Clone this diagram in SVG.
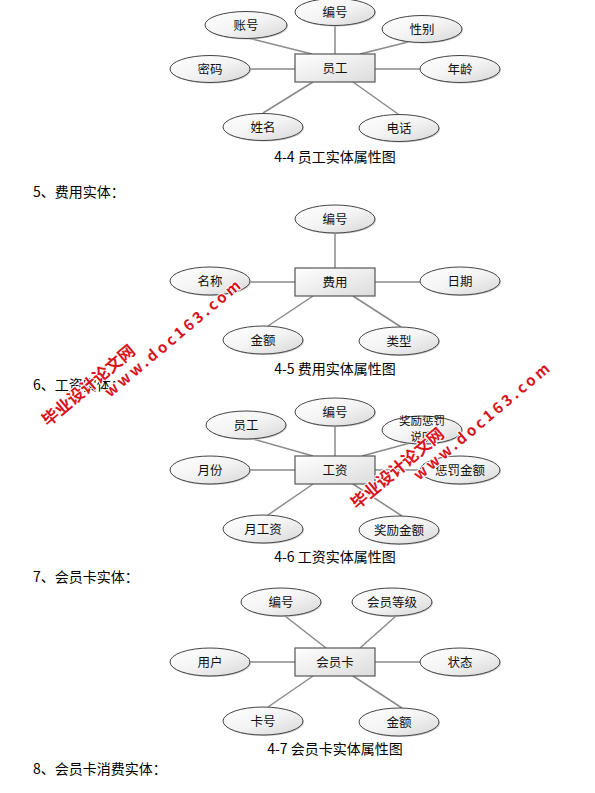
<svg xmlns="http://www.w3.org/2000/svg" width="595" height="793" viewBox="0 0 595 793">
<defs>
<linearGradient id="eg" x1="0" y1="0" x2="1" y2="1">
<stop offset="0" stop-color="#ffffff"/>
<stop offset="0.5" stop-color="#f4f4f4"/>
<stop offset="1" stop-color="#d6d6d6"/>
</linearGradient>
<linearGradient id="bg" x1="0" y1="0" x2="1" y2="1">
<stop offset="0" stop-color="#ffffff"/>
<stop offset="1" stop-color="#dcdcdc"/>
</linearGradient>
</defs>
<style>
.e{fill:url(#eg);stroke:#444;stroke-width:1}
.sh{fill:#c8c8c8;stroke:none}
.b{fill:url(#bg);stroke:#555;stroke-width:1.2}
.t{font-family:"Noto Sans CJK SC","Liberation Sans",sans-serif;font-size:12.5px;fill:#111;text-anchor:middle}
.t2{font-family:"Noto Sans CJK SC","Liberation Sans",sans-serif;font-size:11.5px;fill:#111;text-anchor:middle}
.h{font-family:"Noto Sans CJK SC","Liberation Sans",sans-serif;font-size:14px;fill:#000}
.c{font-family:"Noto Sans CJK SC","Liberation Sans",sans-serif;font-size:14px;fill:#000;text-anchor:middle}
.cn line{stroke:#8a8a8a;stroke-width:1.5}
.wm{font-family:"Noto Sans CJK SC","Liberation Sans",sans-serif;font-weight:bold;fill:#d8141c;stroke:#fff;stroke-width:2;paint-order:stroke}
</style>
<rect width="595" height="793" fill="#fff"/>

<!-- headings & captions -->
<text class="c" x="335" y="162">4-4 员工实体属性图</text>
<text class="h" x="33" y="197">5、费用实体：</text>
<text class="c" x="335" y="374">4-5 费用实体属性图</text>
<text class="h" x="33" y="390">6、工资实体：</text>
<text class="c" x="335" y="562">4-6 工资实体属性图</text>
<text class="h" x="33" y="582">7、会员卡实体：</text>
<text class="c" x="335" y="754">4-7 会员卡实体属性图</text>
<text class="h" x="33" y="774">8、会员卡消费实体：</text>

<!-- connectors -->
<g id="connectors" class="cn">
<line x1="248" y1="38" x2="312" y2="54"/>
<line x1="335" y1="25" x2="335" y2="54"/>
<line x1="408" y1="42" x2="360" y2="54"/>
<line x1="250" y1="69" x2="295" y2="69"/>
<line x1="375" y1="69" x2="420" y2="69"/>
<line x1="263" y1="113" x2="313" y2="82"/>
<line x1="353" y1="82" x2="398" y2="114"/>

<line x1="335" y1="233" x2="335" y2="268"/>
<line x1="250" y1="282" x2="295" y2="282"/>
<line x1="375" y1="282" x2="420" y2="282"/>
<line x1="268" y1="326" x2="313" y2="296"/>
<line x1="353" y1="296" x2="401" y2="327"/>

<line x1="253" y1="439" x2="313" y2="456"/>
<line x1="335" y1="426" x2="335" y2="456"/>
<line x1="410" y1="443" x2="362" y2="456"/>
<line x1="250" y1="470" x2="295" y2="470"/>
<line x1="375" y1="470" x2="420" y2="470"/>
<line x1="268" y1="515" x2="313" y2="484"/>
<line x1="353" y1="484" x2="402" y2="516"/>

<line x1="285" y1="616" x2="326" y2="648"/>
<line x1="396" y1="616" x2="360" y2="648"/>
<line x1="250" y1="662" x2="295" y2="662"/>
<line x1="375" y1="662" x2="420" y2="662"/>
<line x1="268" y1="707" x2="313" y2="676"/>
<line x1="353" y1="676" x2="402" y2="708"/>
</g>

<!-- Diagram 4-4 -->
<g id="yuangong"><rect class="b" x="295" y="54" width="80" height="28"/><text class="t" x="335" y="73">员工</text></g>
<g id="yg-bianhao"><ellipse class="sh" cx="336" cy="13" rx="40" ry="13.5"/><ellipse class="e" cx="335" cy="12" rx="40" ry="13.5"/><text class="t" x="335" y="16.5">编号</text></g>
<g id="yg-zhanghao"><ellipse class="sh" cx="247" cy="26" rx="41" ry="13.5"/><ellipse class="e" cx="246" cy="25" rx="41" ry="13.5"/><text class="t" x="246" y="29.5">账号</text></g>
<g id="yg-xingbie"><ellipse class="sh" cx="423" cy="30" rx="40" ry="13.5"/><ellipse class="e" cx="422" cy="29" rx="40" ry="13.5"/><text class="t" x="422" y="33.5">性别</text></g>
<g id="yg-mima"><ellipse class="sh" cx="211" cy="70" rx="40" ry="13.5"/><ellipse class="e" cx="210" cy="69" rx="40" ry="13.5"/><text class="t" x="210" y="73.5">密码</text></g>
<g id="yg-nianling"><ellipse class="sh" cx="461" cy="70" rx="40" ry="13.5"/><ellipse class="e" cx="460" cy="69" rx="40" ry="13.5"/><text class="t" x="460" y="73.5">年龄</text></g>
<g id="yg-xingming"><ellipse class="sh" cx="264" cy="128" rx="40" ry="13.5"/><ellipse class="e" cx="263" cy="127" rx="40" ry="13.5"/><text class="t" x="263" y="131.5">姓名</text></g>
<g id="yg-dianhua"><ellipse class="sh" cx="400" cy="129" rx="40" ry="13.5"/><ellipse class="e" cx="399" cy="128" rx="40" ry="13.5"/><text class="t" x="399" y="132.5">电话</text></g>

<!-- Diagram 4-5 -->
<g id="feiyong"><rect class="b" x="295" y="268" width="80" height="28"/><text class="t" x="335" y="287">费用</text></g>
<g id="fy-bianhao"><ellipse class="sh" cx="336" cy="220" rx="40" ry="14"/><ellipse class="e" cx="335" cy="219" rx="40" ry="14"/><text class="t" x="335" y="223.5">编号</text></g>
<g id="fy-mingcheng"><ellipse class="sh" cx="211" cy="282" rx="40" ry="14"/><ellipse class="e" cx="210" cy="281" rx="40" ry="14"/><text class="t" x="210" y="285.5">名称</text></g>
<g id="fy-riqi"><ellipse class="sh" cx="461" cy="282" rx="40" ry="14"/><ellipse class="e" cx="460" cy="281" rx="40" ry="14"/><text class="t" x="460" y="285.5">日期</text></g>
<g id="fy-jine"><ellipse class="sh" cx="264" cy="341" rx="40" ry="14"/><ellipse class="e" cx="263" cy="340" rx="40" ry="14"/><text class="t" x="263" y="344.5">金额</text></g>
<g id="fy-leixing"><ellipse class="sh" cx="400" cy="342" rx="40" ry="14"/><ellipse class="e" cx="399" cy="341" rx="40" ry="14"/><text class="t" x="399" y="345.5">类型</text></g>

<!-- Diagram 4-6 -->
<g id="gongzi"><rect class="b" x="295" y="456" width="80" height="28"/><text class="t" x="335" y="475">工资</text></g>
<g id="gz-bianhao"><ellipse class="sh" cx="336" cy="413" rx="40" ry="14"/><ellipse class="e" cx="335" cy="412" rx="40" ry="14"/><text class="t" x="335" y="416.5">编号</text></g>
<g id="gz-yuangong"><ellipse class="sh" cx="247" cy="426" rx="40" ry="14"/><ellipse class="e" cx="246" cy="425" rx="40" ry="14"/><text class="t" x="246" y="429.5">员工</text></g>
<g id="gz-shuoming"><ellipse class="sh" cx="423" cy="431" rx="40" ry="14"/><ellipse class="e" cx="422" cy="430" rx="40" ry="14"/><text class="t2" x="422" y="425">奖励惩罚</text><text class="t2" x="422" y="441">说明</text></g>
<g id="gz-yuefen"><ellipse class="sh" cx="211" cy="471" rx="40" ry="14"/><ellipse class="e" cx="210" cy="470" rx="40" ry="14"/><text class="t" x="210" y="474.5">月份</text></g>
<g id="gz-chengfa"><ellipse class="sh" cx="461" cy="471" rx="40" ry="14"/><ellipse class="e" cx="460" cy="470" rx="40" ry="14"/><text class="t" x="460" y="474.5">惩罚金额</text></g>
<g id="gz-yuegongzi"><ellipse class="sh" cx="264" cy="530" rx="40" ry="14"/><ellipse class="e" cx="263" cy="529" rx="40" ry="14"/><text class="t" x="263" y="533.5">月工资</text></g>
<g id="gz-jiangli"><ellipse class="sh" cx="400" cy="531" rx="40" ry="14"/><ellipse class="e" cx="399" cy="530" rx="40" ry="14"/><text class="t" x="399" y="534.5">奖励金额</text></g>

<!-- Diagram 4-7 -->
<g id="huiyuanka"><rect class="b" x="295" y="648" width="80" height="28"/><text class="t" x="335" y="667">会员卡</text></g>
<g id="hy-bianhao"><ellipse class="sh" cx="282" cy="603" rx="40" ry="14"/><ellipse class="e" cx="281" cy="602" rx="40" ry="14"/><text class="t" x="281" y="606.5">编号</text></g>
<g id="hy-dengji"><ellipse class="sh" cx="393" cy="603" rx="40" ry="14"/><ellipse class="e" cx="392" cy="602" rx="40" ry="14"/><text class="t" x="392" y="606.5">会员等级</text></g>
<g id="hy-yonghu"><ellipse class="sh" cx="211" cy="663" rx="40" ry="14"/><ellipse class="e" cx="210" cy="662" rx="40" ry="14"/><text class="t" x="210" y="666.5">用户</text></g>
<g id="hy-zhuangtai"><ellipse class="sh" cx="461" cy="663" rx="40" ry="14"/><ellipse class="e" cx="460" cy="662" rx="40" ry="14"/><text class="t" x="460" y="666.5">状态</text></g>
<g id="hy-kahao"><ellipse class="sh" cx="264" cy="722" rx="40" ry="14"/><ellipse class="e" cx="263" cy="721" rx="40" ry="14"/><text class="t" x="263" y="725.5">卡号</text></g>
<g id="hy-jine"><ellipse class="sh" cx="400" cy="723" rx="40" ry="14"/><ellipse class="e" cx="399" cy="722" rx="40" ry="14"/><text class="t" x="399" y="726.5">金额</text></g>

<!-- watermarks -->
<g id="watermark1">
<text class="wm" font-size="16.5" transform="translate(48,427) rotate(-40)">毕业设计论文网</text>
<text class="wm" font-size="15" textLength="172" lengthAdjust="spacing" transform="translate(110,398) rotate(-40)">www.doc163.com</text>
</g>
<g id="watermark2">
<text class="wm" font-size="16.5" transform="translate(357,510) rotate(-40)">毕业设计论文网</text>
<text class="wm" font-size="15" textLength="172" lengthAdjust="spacing" transform="translate(419,481) rotate(-40)">www.doc163.com</text>
</g>
</svg>
